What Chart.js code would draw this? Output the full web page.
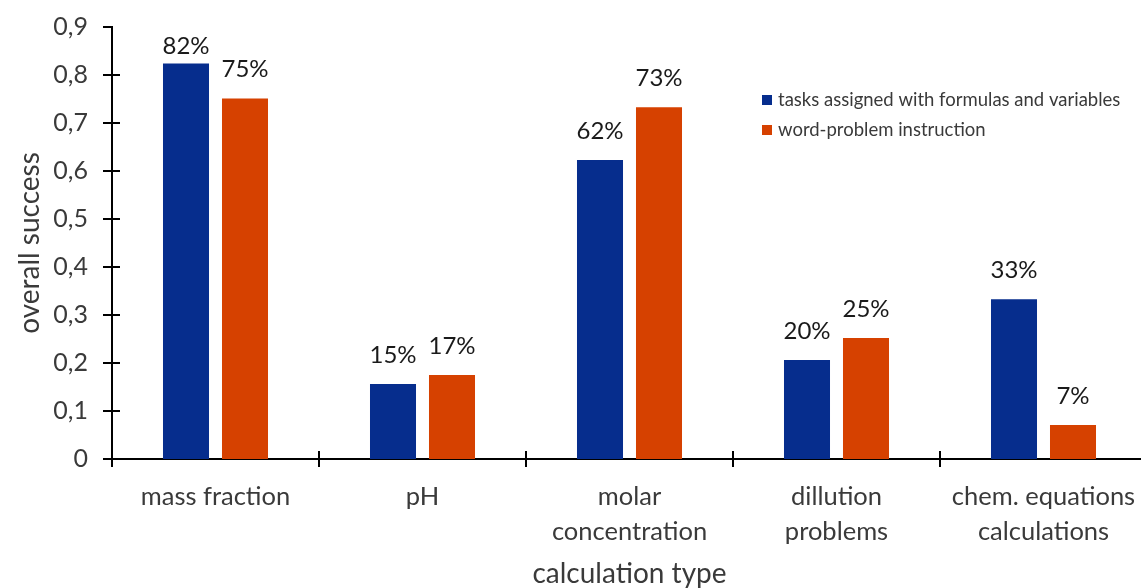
<!DOCTYPE html>
<html>
<head>
<meta charset="utf-8">
<script src="https://cdn.jsdelivr.net/npm/chart.js@4/dist/chart.umd.min.js"></script>
<style>
    html, body { margin: 0; padding: 0; background: #fff; overflow: hidden; }
    #wrap { width: 1150px; height: 588px; }
</style>
</head>
<body>
<div id="wrap"><canvas id="successChart"></canvas></div>
<script>
const categories = [
    "mass fraction",
    "pH",
    ["molar", "concentration"],
    ["dillution", "problems"],
    ["chem. equations", "calculations"]
];
const formulaValues = [0.824, 0.156, 0.623, 0.206, 0.333];
const wordValues = [0.751, 0.175, 0.733, 0.252, 0.071];
const formulaLabels = ["82%", "15%", "62%", "20%", "33%"];
const wordLabels = ["75%", "17%", "73%", "25%", "7%"];
const seriesNames = ["tasks assigned with formulas and variables", "word-problem instruction"];
const yTicks = [0, 0.1, 0.2, 0.3, 0.4, 0.5, 0.6, 0.7, 0.8, 0.9];

const FONT = "Lato, 'Open Sans', sans-serif";
const BLUE = "#062d8d";
const ORANGE = "#d64100";
const TEXT = "#3a3a3a";

// bar value labels above each bar
const valueLabels = {
    id: "valueLabels",
    afterDatasetsDraw(chart) {
        const ctx = chart.ctx;
        const texts = [formulaLabels, wordLabels];
        ctx.save();
        ctx.font = "24px " + FONT;
        ctx.fillStyle = "#1a1a1a";
        ctx.textAlign = "center";
        ctx.textBaseline = "middle";
        chart.data.datasets.forEach((ds, di) => {
            chart.getDatasetMeta(di).data.forEach((bar, i) => {
                const y = Math.max(bar.y - 29, chart.chartArea.top + 19);
                ctx.fillText(texts[di][i], bar.x, y);
            });
        });
        ctx.restore();
    }
};

// tick marks crossing the axes, plus the legend box
const axisMarks = {
    id: "axisMarks",
    afterDraw(chart) {
        const ctx = chart.ctx;
        const x = chart.scales.x;
        const y = chart.scales.y;
        ctx.save();
        ctx.strokeStyle = "#000";
        ctx.lineWidth = 2;
        ctx.beginPath();
        yTicks.forEach((v) => {
            const py = Math.round(y.getPixelForValue(v));
            ctx.moveTo(x.left - 9, py);
            ctx.lineTo(v === 0.9 ? x.left : x.left + 8, py);
        });
        for (let i = 0; i <= categories.length; i++) {
            const px = Math.round(x.getPixelForValue(i - 0.5));
            ctx.moveTo(px, y.bottom - 8);
            ctx.lineTo(px, y.bottom + 8);
        }
        ctx.moveTo(x.left - 9, y.bottom);
        ctx.lineTo(x.left, y.bottom);
        ctx.stroke();

        // legend
        ctx.font = "18.5px " + FONT;
        ctx.textBaseline = "middle";
        ctx.textAlign = "left";
        [BLUE, ORANGE].forEach((c, i) => {
            const ly = 100 + i * 30;
            ctx.fillStyle = c;
            ctx.fillRect(762, ly - 5, 10, 10);
            ctx.fillStyle = TEXT;
            ctx.fillText(seriesNames[i], 778, ly);
        });
        ctx.restore();
    }
};

new Chart(document.getElementById("successChart"), {
    type: "bar",
    data: {
        labels: categories,
        datasets: [
            { label: seriesNames[0], data: formulaValues, backgroundColor: BLUE },
            { label: seriesNames[1], data: wordValues, backgroundColor: ORANGE }
        ]
    },
    options: {
        responsive: true,
        maintainAspectRatio: false,
        animation: false,
        datasets: { bar: { categoryPercentage: 0.57, barPercentage: 0.78 } },
        layout: { padding: { top: 27, right: 3, left: 0, bottom: 0 } },
        plugins: {
            legend: { display: false },
            tooltip: { enabled: false }
        },
        scales: {
            x: {
                grid: { display: false },
                border: { color: "#000", width: 2 },
                ticks: {
                    color: TEXT,
                    padding: 12,
                    font: { family: FONT, size: 25.5, lineHeight: 1.37 },
                    maxRotation: 0,
                    autoSkip: false
                },
                title: {
                    display: true,
                    text: "calculation type",
                    color: TEXT,
                    font: { family: FONT, size: 28 },
                    padding: { top: 0, bottom: -3 }
                },
                afterFit: (s) => { s.height = 129; }
            },
            y: {
                min: 0,
                max: 0.9,
                afterBuildTicks: (s) => { s.ticks = yTicks.map((v) => ({ value: v })); },
                grid: { display: false },
                border: { color: "#000", width: 2 },
                ticks: {
                    color: TEXT,
                    padding: 16,
                    font: { family: FONT, size: 25 },
                    callback: (v) => v === 0 ? "0" : v.toFixed(1).replace(".", ",")
                },
                title: {
                    display: true,
                    text: "overall success",
                    color: TEXT,
                    font: { family: FONT, size: 28 },
                    padding: { top: 13, bottom: 0 }
                },
                afterFit: (s) => { s.width = 112; s.paddingTop = 0; s.paddingBottom = 0; }
            }
        }
    },
    plugins: [valueLabels, axisMarks]
});
</script>
</body>
</html>
